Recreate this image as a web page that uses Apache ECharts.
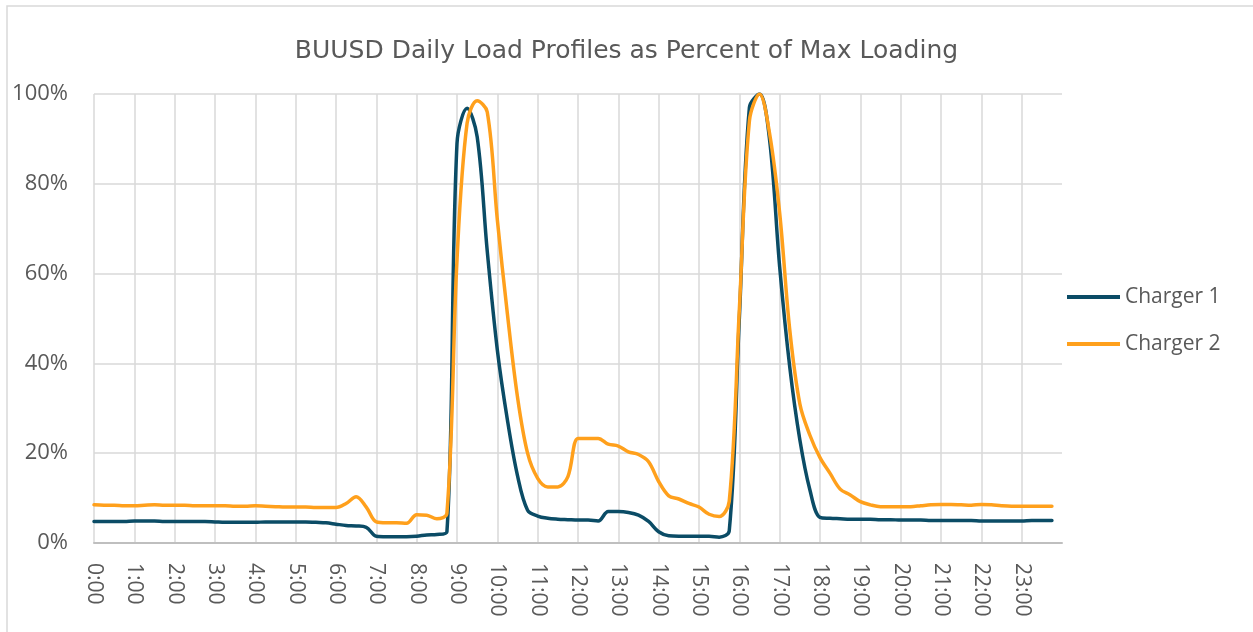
<!DOCTYPE html>
<html>
<head>
<meta charset="utf-8">
<title>BUUSD Daily Load Profiles</title>
<script src="https://cdn.jsdelivr.net/npm/echarts@6/dist/echarts.min.js"></script>
<style>
  html, body { margin: 0; padding: 0; background: #fff; }
  #chart { width: 1253px; height: 632px; }
</style>
</head>
<body>
<div id="chart"></div>
<script>
// hour tick labels on the x axis
const hourLabels = ['0:00', '1:00', '2:00', '3:00', '4:00', '5:00', '6:00', '7:00',
  '8:00', '9:00', '10:00', '11:00', '12:00', '13:00', '14:00', '15:00',
  '16:00', '17:00', '18:00', '19:00', '20:00', '21:00', '22:00', '23:00']
const quarterSuffix = [':00', ':15', ':30', ':45']

// 15 minute samples, percent of max loading
const charger1 = [
  4.8, 4.8, 4.8, 4.8, 4.9, 4.9, 4.9, 4.8, 4.8, 4.8, 4.8, 4.8,
  4.7, 4.6, 4.6, 4.6, 4.6, 4.7, 4.7, 4.7, 4.7, 4.7, 4.6, 4.5,
  4.2, 3.9, 3.8, 3.5, 1.5, 1.4, 1.4, 1.4, 1.5, 1.8, 1.9, 2.5,
  89, 96.8, 90.5, 65, 43, 27.4, 15, 7.3, 6.0, 5.5, 5.3, 5.2,
  5.1, 5.1, 4.9, 7.0, 7.0, 6.8, 6.2, 4.8, 2.5, 1.6, 1.5, 1.5,
  1.5, 1.5, 1.3, 2.7, 50, 97, 100, 89.8, 61.5, 39.2, 23, 11.8,
  5.7, 5.5, 5.4, 5.3, 5.3, 5.3, 5.2, 5.2, 5.1, 5.1, 5.1, 5.0,
  5.0, 5.0, 5.0, 5.0, 4.9, 4.9, 4.9, 4.9, 4.9, 5.0, 5.0, 5.0
]
const charger2 = [
  8.5, 8.4, 8.4, 8.3, 8.3, 8.4, 8.5, 8.4, 8.4, 8.4, 8.3, 8.3,
  8.3, 8.3, 8.2, 8.2, 8.3, 8.2, 8.1, 8.0, 8.0, 8.0, 7.9, 7.9,
  7.9, 8.8, 10.3, 8.0, 4.7, 4.5, 4.5, 4.4, 6.3, 6.2, 5.4, 6.6,
  63, 93.5, 98.5, 96, 72, 51, 32.5, 20, 14.4, 12.5, 12.5, 14.8,
  23.3, 23.3, 23.3, 22.0, 21.6, 20.3, 19.7, 18.1, 13.7, 10.5, 9.8, 8.8,
  8.0, 6.4, 5.9, 9.3, 52, 94, 100, 91.2, 73.5, 47.5, 31, 24,
  19, 15.5, 12, 10.7, 9.2, 8.5, 8.1, 8.1, 8.1, 8.1, 8.3, 8.5,
  8.6, 8.6, 8.5, 8.4, 8.6, 8.5, 8.3, 8.2, 8.2, 8.2, 8.2, 8.2
]

// categories 0:00 .. 23:45 plus the closing 24:00 slot at the right edge
const categories = []
hourLabels.forEach(h => {
  const hh = h.split(':')[0]
  quarterSuffix.forEach(q => categories.push(hh + q))
})
categories.push('24:00')

const textColor = '#595959'
const font = 'Open Sans'
const isHour = i => i % 4 === 0 && i < 96

const chart = echarts.init(document.getElementById('chart'))
chart.setOption({
  backgroundColor: '#fff',
  animation: false,
  title: {
    text: 'BUUSD Daily Load Profiles as Percent of Max Loading',
    left: 'center',
    top: 34,
    textStyle: {
      color: textColor,
      fontFamily: 'DejaVu Sans',
      fontWeight: 'normal',
      fontSize: 25
    }
  },
  graphic: [{
    type: 'rect',
    shape: { x: 7, y: 6, width: 1270, height: 650 },
    style: { fill: 'none', stroke: '#d9d9d9', lineWidth: 1.5 },
    silent: true
  }],
  legend: {
    orient: 'vertical',
    left: 1067,
    top: 284,
    padding: 0,
    icon: 'rect',
    itemWidth: 53,
    itemHeight: 4,
    itemGap: 21,
    textStyle: {
      color: textColor,
      fontFamily: font,
      fontSize: 21,
      lineHeight: 26
    },
    data: ['Charger 1', 'Charger 2']
  },
  grid: {
    left: 94,
    right: 191,
    top: 94,
    bottom: 89
  },
  xAxis: {
    type: 'category',
    boundaryGap: false,
    data: categories,
    axisTick: { show: false },
    axisLine: {
      lineStyle: { color: '#bfbfbf', width: 2 }
    },
    axisLabel: {
      interval: (i) => isHour(i),
      rotate: -90,
      margin: 20,
      color: textColor,
      fontFamily: font,
      fontSize: 21
    },
    splitLine: {
      show: true,
      interval: (i) => isHour(i),
      lineStyle: { color: '#d9d9d9', width: 1.5 }
    }
  },
  yAxis: {
    type: 'value',
    min: 0,
    max: 100,
    interval: 20,
    axisLine: { show: false },
    axisTick: { show: false },
    axisLabel: {
      formatter: '{value}%',
      margin: 26,
      color: textColor,
      fontFamily: font,
      fontSize: 22
    },
    splitLine: {
      lineStyle: { color: '#d9d9d9', width: 1.5 }
    }
  },
  series: [
    {
      name: 'Charger 1',
      type: 'line',
      data: charger1,
      smooth: 0.35,
      symbol: 'none',
      color: '#0b4c66',
      lineStyle: { width: 3.5, cap: 'round', join: 'round' }
    },
    {
      name: 'Charger 2',
      type: 'line',
      data: charger2,
      smooth: 0.35,
      symbol: 'none',
      color: '#ffa01c',
      lineStyle: { width: 3.5, cap: 'round', join: 'round' }
    }
  ]
})
</script>
</body>
</html>
